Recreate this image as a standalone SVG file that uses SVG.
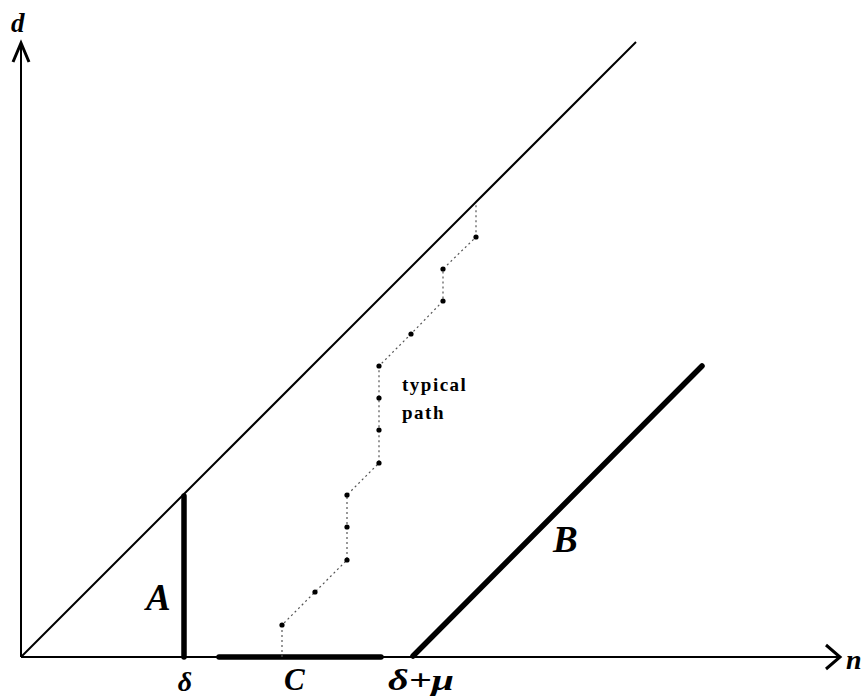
<svg xmlns="http://www.w3.org/2000/svg" width="861" height="699" viewBox="0 0 861 699">
<style>
.thin{stroke:#000;stroke-width:2;fill:none}
.thick{stroke:#000;stroke-width:5.5;fill:none;stroke-linecap:round}
.arrow{stroke:#000;stroke-width:3;fill:none;stroke-linejoin:miter}
.dot{stroke:#555;stroke-width:1.2;stroke-dasharray:2 3;fill:none}
.lbl{font-family:"Liberation Serif",serif;font-style:italic;font-weight:bold;fill:#000}
.txt{font-family:"Liberation Serif",serif;font-weight:bold;fill:#000;font-size:19px;letter-spacing:1.5px}
</style>
<rect width="861" height="699" fill="#fff"/>
<g id="axes">
<line class="thin" x1="21" y1="657" x2="21" y2="44"/>
<polyline class="arrow" points="13,62 21,43 29,62"/>
<line class="thin" x1="21" y1="657" x2="838" y2="657"/>
<polyline class="arrow" points="826,645 840,657 826,669"/>
<text class="lbl" x="11" y="32" font-size="27">d</text>
<text class="lbl" x="846" y="669" font-size="28">n</text>
</g>
<g id="diagonal">
<line class="thin" x1="21" y1="657" x2="636" y2="42"/>
</g>
<g id="A">
<line class="thick" x1="184" y1="657" x2="184" y2="496" stroke-linecap="butt"/>
<text class="lbl" x="146" y="610" font-size="37">A</text>
</g>
<g id="B">
<line class="thick" x1="413" y1="656" x2="702" y2="366"/>
<text class="lbl" x="553" y="552" font-size="37">B</text>
</g>
<g id="C">
<line class="thick" x1="219" y1="657" x2="381" y2="657"/>
<text class="lbl" x="284" y="690" font-size="31">C</text>
</g>
<g id="ticks">
<text class="lbl" x="185" y="691" font-size="28" text-anchor="middle">δ</text>
<text class="lbl" x="388" y="690" font-size="30" textLength="66" lengthAdjust="spacingAndGlyphs">δ+μ</text>
</g>
<g id="path">
<polyline class="dot" points="282,657 282,625 315,592 347,560 347,527 347,495 379,463 379,430 379,398 379,366 411,334 443,301 443,269 476,237 476,204"/>
<g fill="#000">
<circle cx="282" cy="625" r="2.6"/>
<circle cx="315" cy="592" r="2.6"/>
<circle cx="347" cy="560" r="2.6"/>
<circle cx="347" cy="527" r="2.6"/>
<circle cx="347" cy="495" r="2.6"/>
<circle cx="379" cy="463" r="2.6"/>
<circle cx="379" cy="430" r="2.6"/>
<circle cx="379" cy="398" r="2.6"/>
<circle cx="379" cy="366" r="2.6"/>
<circle cx="411" cy="334" r="2.6"/>
<circle cx="443" cy="301" r="2.6"/>
<circle cx="443" cy="269" r="2.6"/>
<circle cx="476" cy="237" r="2.6"/>
</g>
<text class="txt" x="402" y="391">typical</text>
<text class="txt" x="402" y="419">path</text>
</g>
</svg>
